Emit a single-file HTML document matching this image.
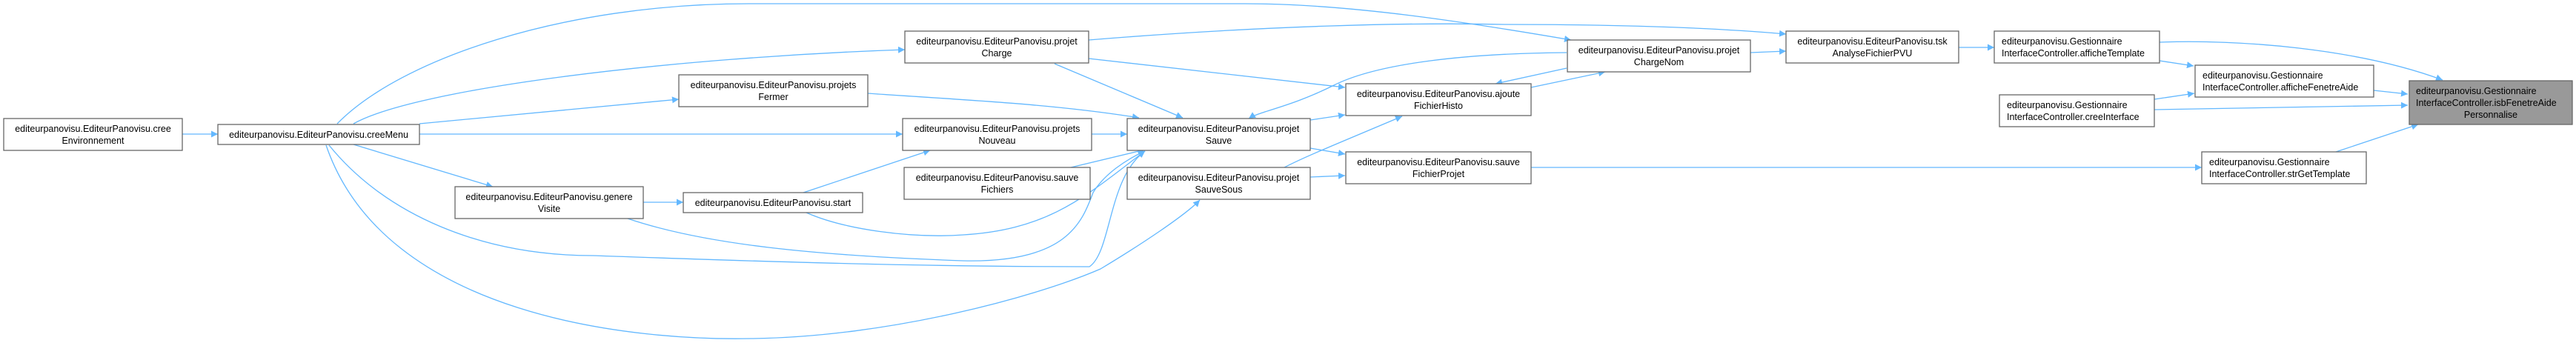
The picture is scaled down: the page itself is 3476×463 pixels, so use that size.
<!DOCTYPE html>
<html><head><meta charset="utf-8"><style>
html,body{margin:0;padding:0;background:#fff;}
svg{display:block;}
text{font-family:"Liberation Sans",sans-serif;font-size:12.5px;fill:#000;}
.b{fill:#fff;stroke:#666;stroke-width:1.3;}
.g{fill:#999;stroke:#666;stroke-width:1.3;}
.e{fill:none;stroke:#63b8ff;stroke-width:1.3;}
</style></head><body>
<svg width="3476" height="463" viewBox="0 0 3476 463" xmlns="http://www.w3.org/2000/svg">
<defs><marker id="a" viewBox="0 0 10 10" refX="10" refY="5" markerWidth="9" markerHeight="9" markerUnits="userSpaceOnUse" orient="auto"><path d="M0,0 L10,5 L0,10 z" fill="#63b8ff"/></marker></defs>
<g class="e" marker-end="url(#a)">
<path d="M246,181 L294,181"/>
<path d="M566,167 L916,134"/>
<path d="M477,167 C560,120 900,78 1221,67"/>
<path d="M455,167 C540,80 760,5 1010,5 L1680,5 C1820,5 1980,30 2120,54"/>
<path d="M566,181 L1218,181"/>
<path d="M477,195 L665,252"/>
<path d="M868,273 L922,273"/>
<path d="M1084,260 L1255,203"/>
<path d="M1088,287 C1140,310 1230,322 1300,317 C1420,310 1470,260 1545,204"/>
<path d="M847,295 C950,330 1100,345 1300,352 C1440,355 1460,300 1475,260 C1490,235 1520,215 1545,204"/>
<path d="M444,196 C520,290 650,345 800,345 C950,350 1200,360 1470,360 C1500,340 1495,240 1545,204"/>
<path d="M440,196 C520,430 860,460 1013,457 C1200,455 1400,400 1485,363 C1540,330 1600,290 1619,270"/>
<path d="M1171,126 C1300,135 1420,140 1537,159"/>
<path d="M1423,86 L1596,159"/>
<path d="M1469,79 L1815,118"/>
<path d="M1469,54 C1700,35 1900,30 2030,33 C2200,33 2320,38 2410,46"/>
<path d="M1473,181 L1521,181"/>
<path d="M1445,226 L1545,202"/>
<path d="M1768,162 L1815,155"/>
<path d="M1768,200 L1815,208"/>
<path d="M1733,226 C1760,212 1790,200 1892,157"/>
<path d="M1768,239 L1815,237"/>
<path d="M2114,71 C1980,72 1860,85 1800,115 C1740,145 1700,150 1685,160"/>
<path d="M2114,92 L2018,113"/>
<path d="M2066,118 L2166,97"/>
<path d="M2066,226 L2971,226"/>
<path d="M2362,71 L2410,69"/>
<path d="M2643,64 L2691,64"/>
<path d="M2914,82 L2960,89"/>
<path d="M2914,57 C3020,53 3180,65 3296,108"/>
<path d="M3203,122 L3249,127"/>
<path d="M2907,134 L2961,126"/>
<path d="M2907,148 L3249,142"/>
<path d="M3152,205 L3263,168"/>
</g>
<g>
<rect class="b" x="5" y="160" width="241" height="43"/><text x="125.5" y="178" text-anchor="middle">editeurpanovisu.EditeurPanovisu.cree</text><text x="125.5" y="194" text-anchor="middle">Environnement</text>
<rect class="b" x="294" y="168" width="272" height="27"/><text x="430" y="186" text-anchor="middle">editeurpanovisu.EditeurPanovisu.creeMenu</text>
<rect class="b" x="916" y="101" width="255" height="43"/><text x="1043.5" y="119" text-anchor="middle">editeurpanovisu.EditeurPanovisu.projets</text><text x="1043.5" y="135" text-anchor="middle">Fermer</text>
<rect class="b" x="614" y="252" width="254" height="43"/><text x="741" y="270" text-anchor="middle">editeurpanovisu.EditeurPanovisu.genere</text><text x="741" y="286" text-anchor="middle">Visite</text>
<rect class="b" x="922" y="260" width="242" height="27"/><text x="1043" y="278" text-anchor="middle">editeurpanovisu.EditeurPanovisu.start</text>
<rect class="b" x="1221" y="42" width="248" height="43"/><text x="1345" y="60" text-anchor="middle">editeurpanovisu.EditeurPanovisu.projet</text><text x="1345" y="76" text-anchor="middle">Charge</text>
<rect class="b" x="1218" y="160" width="255" height="43"/><text x="1345.5" y="178" text-anchor="middle">editeurpanovisu.EditeurPanovisu.projets</text><text x="1345.5" y="194" text-anchor="middle">Nouveau</text>
<rect class="b" x="1220" y="226" width="251" height="43"/><text x="1345.5" y="244" text-anchor="middle">editeurpanovisu.EditeurPanovisu.sauve</text><text x="1345.5" y="260" text-anchor="middle">Fichiers</text>
<rect class="b" x="1521" y="160" width="247" height="43"/><text x="1644.5" y="178" text-anchor="middle">editeurpanovisu.EditeurPanovisu.projet</text><text x="1644.5" y="194" text-anchor="middle">Sauve</text>
<rect class="b" x="1521" y="226" width="247" height="43"/><text x="1644.5" y="244" text-anchor="middle">editeurpanovisu.EditeurPanovisu.projet</text><text x="1644.5" y="260" text-anchor="middle">SauveSous</text>
<rect class="b" x="1816" y="113" width="250" height="43"/><text x="1941" y="131" text-anchor="middle">editeurpanovisu.EditeurPanovisu.ajoute</text><text x="1941" y="147" text-anchor="middle">FichierHisto</text>
<rect class="b" x="1816" y="205" width="250" height="43"/><text x="1941" y="223" text-anchor="middle">editeurpanovisu.EditeurPanovisu.sauve</text><text x="1941" y="239" text-anchor="middle">FichierProjet</text>
<rect class="b" x="2115" y="54" width="247" height="43"/><text x="2238.5" y="72" text-anchor="middle">editeurpanovisu.EditeurPanovisu.projet</text><text x="2238.5" y="88" text-anchor="middle">ChargeNom</text>
<rect class="b" x="2410" y="42" width="233" height="43"/><text x="2526.5" y="60" text-anchor="middle">editeurpanovisu.EditeurPanovisu.tsk</text><text x="2526.5" y="76" text-anchor="middle">AnalyseFichierPVU</text>
<rect class="b" x="2691" y="42" width="223" height="43"/><text x="2701" y="60">editeurpanovisu.Gestionnaire</text><text x="2701" y="76">InterfaceController.afficheTemplate</text>
<rect class="b" x="2962" y="88" width="241" height="43"/><text x="2972" y="106">editeurpanovisu.Gestionnaire</text><text x="2972" y="122">InterfaceController.afficheFenetreAide</text>
<rect class="b" x="2698" y="128" width="209" height="43"/><text x="2708" y="146">editeurpanovisu.Gestionnaire</text><text x="2708" y="162">InterfaceController.creeInterface</text>
<rect class="b" x="2971" y="205" width="222" height="43"/><text x="2981" y="223">editeurpanovisu.Gestionnaire</text><text x="2981" y="239">InterfaceController.strGetTemplate</text>
<rect class="g" x="3251" y="109" width="220" height="59"/><text x="3260" y="127">editeurpanovisu.Gestionnaire</text><text x="3260" y="143">InterfaceController.isbFenetreAide</text><text x="3361" y="159" text-anchor="middle">Personnalise</text>
</g>
</svg>
</body></html>
